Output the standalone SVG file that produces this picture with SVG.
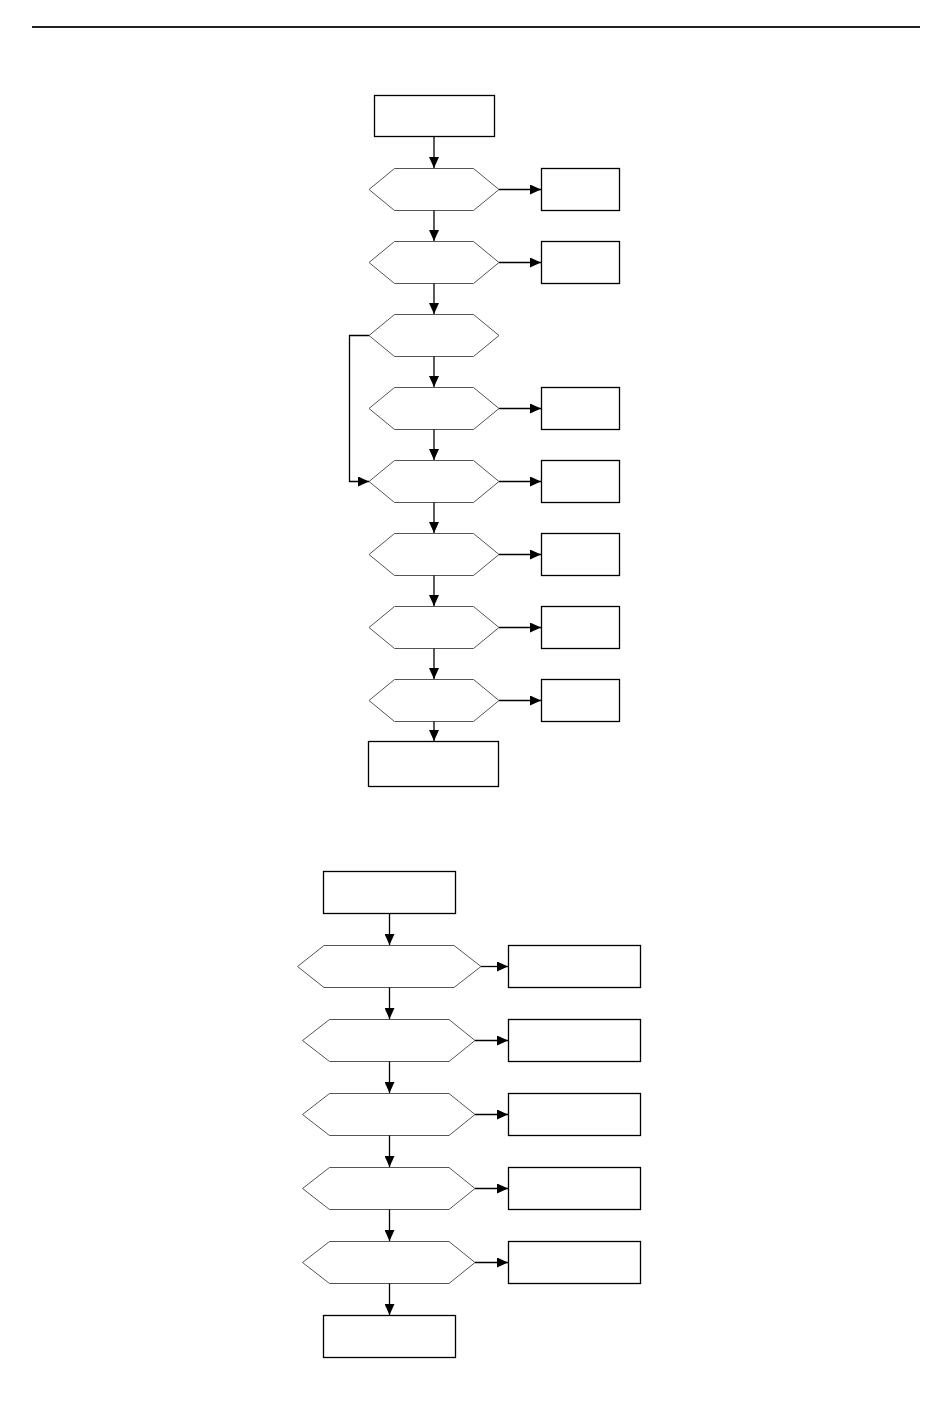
<svg xmlns="http://www.w3.org/2000/svg" width="950" height="1413" viewBox="0 0 950 1413">
<style>
.box{fill:#fff;stroke:#000;stroke-width:1.3}
.hex{fill:#fff;stroke:#555;stroke-width:1}
.con{fill:none;stroke:#000;stroke-width:1.3}
</style>
<defs>
<marker id="ah" markerUnits="userSpaceOnUse" markerWidth="11" markerHeight="10" refX="11" refY="5" orient="auto">
<path d="M0,0 L11,5 L0,10 Z" fill="#000"/>
</marker>
</defs>
<rect width="950" height="1413" fill="#fff"/>
<line x1="32" y1="27" x2="920" y2="27" stroke="#222" stroke-width="2"/>

<!-- Section 1 nodes -->
<g id="s1-start"><rect class="box" x="374.5" y="95.5" width="120" height="41"/></g>
<g id="s1-d1"><polygon class="hex" points="369,189.5 394.5,168.5 473.5,168.5 499,189.5 473.5,210.5 394.5,210.5"/></g>
<g id="s1-d2"><polygon class="hex" points="369,262.5 394.5,241.5 473.5,241.5 499,262.5 473.5,283.5 394.5,283.5"/></g>
<g id="s1-d3"><polygon class="hex" points="369,335.5 394.5,314.5 473.5,314.5 499,335.5 473.5,356.5 394.5,356.5"/></g>
<g id="s1-d4"><polygon class="hex" points="369,408.5 394.5,387.5 473.5,387.5 499,408.5 473.5,429.5 394.5,429.5"/></g>
<g id="s1-d5"><polygon class="hex" points="369,481.5 394.5,460.5 473.5,460.5 499,481.5 473.5,502.5 394.5,502.5"/></g>
<g id="s1-d6"><polygon class="hex" points="369,554.5 394.5,533.5 473.5,533.5 499,554.5 473.5,575.5 394.5,575.5"/></g>
<g id="s1-d7"><polygon class="hex" points="369,627.5 394.5,606.5 473.5,606.5 499,627.5 473.5,648.5 394.5,648.5"/></g>
<g id="s1-d8"><polygon class="hex" points="369,700.5 394.5,679.5 473.5,679.5 499,700.5 473.5,721.5 394.5,721.5"/></g>
<g id="s1-r1"><rect class="box" x="541.5" y="168.5" width="78" height="42"/></g>
<g id="s1-r2"><rect class="box" x="541.5" y="241.5" width="78" height="42"/></g>
<g id="s1-r4"><rect class="box" x="541.5" y="387.5" width="78" height="42"/></g>
<g id="s1-r5"><rect class="box" x="541.5" y="460.5" width="78" height="42"/></g>
<g id="s1-r6"><rect class="box" x="541.5" y="533.5" width="78" height="42"/></g>
<g id="s1-r7"><rect class="box" x="541.5" y="606.5" width="78" height="42"/></g>
<g id="s1-r8"><rect class="box" x="541.5" y="679.5" width="78" height="42"/></g>
<g id="s1-end"><rect class="box" x="368.5" y="741.5" width="130" height="45"/></g>

<!-- Section 2 nodes -->
<g id="s2-start"><rect class="box" x="323.5" y="871.5" width="132" height="42"/></g>
<g id="s2-d1"><polygon class="hex" points="297.5,966.5 324,945.5 454,945.5 481,966.5 454,987.5 324,987.5"/></g>
<g id="s2-d2"><polygon class="hex" points="302.5,1040.5 329.5,1019.5 449,1019.5 475,1040.5 449,1061.5 329.5,1061.5"/></g>
<g id="s2-d3"><polygon class="hex" points="302.5,1114.5 329.5,1093.5 449,1093.5 475,1114.5 449,1135.5 329.5,1135.5"/></g>
<g id="s2-d4"><polygon class="hex" points="302.5,1188.5 329.5,1167.5 449,1167.5 475,1188.5 449,1209.5 329.5,1209.5"/></g>
<g id="s2-d5"><polygon class="hex" points="302.5,1262.5 329.5,1241.5 449,1241.5 475,1262.5 449,1283.5 329.5,1283.5"/></g>
<g id="s2-r1"><rect class="box" x="508.5" y="945.5" width="132" height="42"/></g>
<g id="s2-r2"><rect class="box" x="508.5" y="1019.5" width="132" height="42"/></g>
<g id="s2-r3"><rect class="box" x="508.5" y="1093.5" width="132" height="42"/></g>
<g id="s2-r4"><rect class="box" x="508.5" y="1167.5" width="132" height="42"/></g>
<g id="s2-r5"><rect class="box" x="508.5" y="1241.5" width="132" height="42"/></g>
<g id="s2-end"><rect class="box" x="323.5" y="1315.5" width="132" height="42"/></g>

<!-- Connectors -->
<g id="connectors" class="con">
<line x1="434" y1="136.5" x2="434" y2="168" marker-end="url(#ah)"/>
<line x1="434" y1="210.5" x2="434" y2="241" marker-end="url(#ah)"/>
<line x1="434" y1="283.5" x2="434" y2="314" marker-end="url(#ah)"/>
<line x1="434" y1="356.5" x2="434" y2="387" marker-end="url(#ah)"/>
<line x1="434" y1="429.5" x2="434" y2="460" marker-end="url(#ah)"/>
<line x1="434" y1="502.5" x2="434" y2="533" marker-end="url(#ah)"/>
<line x1="434" y1="575.5" x2="434" y2="606" marker-end="url(#ah)"/>
<line x1="434" y1="648.5" x2="434" y2="679" marker-end="url(#ah)"/>
<line x1="434" y1="721.5" x2="434" y2="741" marker-end="url(#ah)"/>
<line x1="499" y1="189.5" x2="541" y2="189.5" marker-end="url(#ah)"/>
<line x1="499" y1="262.5" x2="541" y2="262.5" marker-end="url(#ah)"/>
<line x1="499" y1="408.5" x2="541" y2="408.5" marker-end="url(#ah)"/>
<line x1="499" y1="481.5" x2="541" y2="481.5" marker-end="url(#ah)"/>
<line x1="499" y1="554.5" x2="541" y2="554.5" marker-end="url(#ah)"/>
<line x1="499" y1="627.5" x2="541" y2="627.5" marker-end="url(#ah)"/>
<line x1="499" y1="700.5" x2="541" y2="700.5" marker-end="url(#ah)"/>
<path d="M369,335.5 H349.5 V481.5 H369" marker-end="url(#ah)"/>

<line x1="389.5" y1="913.5" x2="389.5" y2="945" marker-end="url(#ah)"/>
<line x1="389.5" y1="987.5" x2="389.5" y2="1019" marker-end="url(#ah)"/>
<line x1="389.5" y1="1061.5" x2="389.5" y2="1093" marker-end="url(#ah)"/>
<line x1="389.5" y1="1135.5" x2="389.5" y2="1167" marker-end="url(#ah)"/>
<line x1="389.5" y1="1209.5" x2="389.5" y2="1241" marker-end="url(#ah)"/>
<line x1="389.5" y1="1283.5" x2="389.5" y2="1315" marker-end="url(#ah)"/>
<line x1="481" y1="966.5" x2="508" y2="966.5" marker-end="url(#ah)"/>
<line x1="475" y1="1040.5" x2="508" y2="1040.5" marker-end="url(#ah)"/>
<line x1="475" y1="1114.5" x2="508" y2="1114.5" marker-end="url(#ah)"/>
<line x1="475" y1="1188.5" x2="508" y2="1188.5" marker-end="url(#ah)"/>
<line x1="475" y1="1262.5" x2="508" y2="1262.5" marker-end="url(#ah)"/>
</g>
</svg>
